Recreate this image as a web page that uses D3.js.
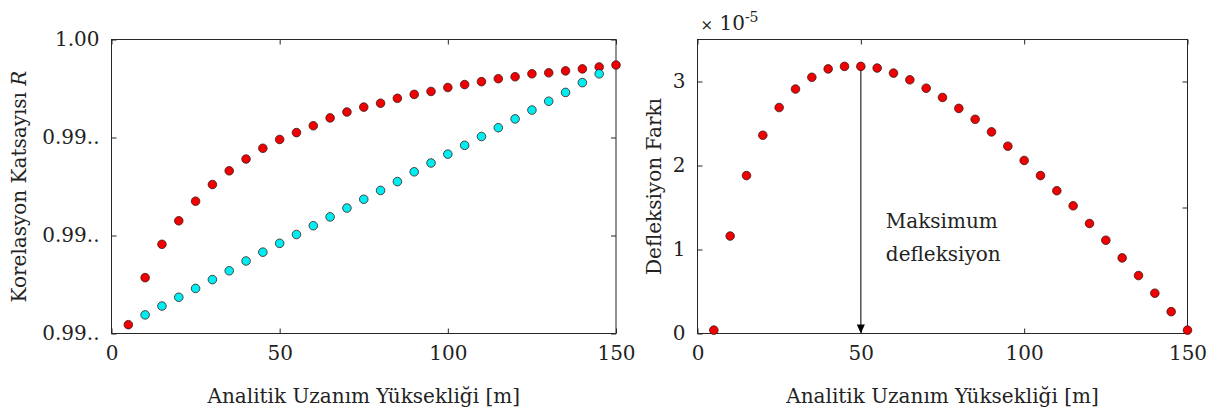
<!DOCTYPE html>
<html>
<head>
<meta charset="utf-8">
<script src="https://cdn.jsdelivr.net/npm/d3@7"></script>
<style>
  html, body { margin: 0; padding: 0; background: #fff; }
  svg { display: block; }
  text { font-family: "DejaVu Serif", serif; fill: #222; }
  .frame { fill: none; stroke: #262626; stroke-width: 1; }
  .tick line { stroke: #262626; }
</style>
</head>
<body>
<svg id="chart" width="1231" height="414"></svg>
<script>
// x positions of the samples [m]
var heights = [5, 10, 15, 20, 25, 30, 35, 40, 45, 50, 55, 60, 65, 70, 75,
  80, 85, 90, 95, 100, 105, 110, 115, 120, 125, 130, 135, 140, 145, 150];

// left panel: correlation coefficient R (red series, 5..150)
var corrRed = [0.99709, 0.99757, 0.99791, 0.99815, 0.99835, 0.99852, 0.99866, 0.99878,
  0.99889, 0.99898, 0.99905, 0.99912, 0.99920, 0.99926, 0.99931, 0.99935, 0.99940,
  0.99944, 0.99947, 0.99951, 0.99954, 0.99957, 0.99960, 0.99962, 0.99965, 0.99966,
  0.99968, 0.99970, 0.99972, 0.99974];
// cyan series, 10..145
var corrCyanHeights = heights.slice(1, 29);
var corrCyan = [0.99719, 0.99728, 0.99737, 0.99746, 0.99755, 0.99764, 0.99774, 0.99783,
  0.99792, 0.99801, 0.99810, 0.99819, 0.99828, 0.99837, 0.99846, 0.99855, 0.99865,
  0.99874, 0.99883, 0.99892, 0.99901, 0.99910, 0.99919, 0.99928, 0.99937, 0.99946,
  0.99956, 0.99965];

// right panel: deflection difference (x 1e-5)
var deflection = [0.04, 1.16, 1.88, 2.36, 2.69, 2.91, 3.05, 3.15, 3.18, 3.18, 3.16,
  3.10, 3.02, 2.92, 2.81, 2.68, 2.55, 2.40, 2.23, 2.06, 1.88, 1.70, 1.52, 1.31,
  1.11, 0.90, 0.69, 0.48, 0.26, 0.04];

var xTicks = [0, 50, 100, 150];
var corrTicks = [0.997, 0.998, 0.999, 1.000];
var corrTickLabels = ["0.99..", "0.99..", "0.99..", "1.00"];
var deflTicks = [0, 1, 2, 3];
var deflRightTicks = [1.5, 3];
var peakHeight = 50;

var svg = d3.select("#chart");
var tickLen = 5;

function panel(box, yDomain) {
  var g = svg.append("g");
  var x = d3.scaleLinear().domain([0, 150]).range([box.x0, box.x1]);
  var y = d3.scaleLinear().domain(yDomain).range([box.y1, box.y0]);
  g.append("rect").attr("class", "frame")
    .attr("x", box.x0).attr("y", box.y0)
    .attr("width", box.x1 - box.x0).attr("height", box.y1 - box.y0);
  return { g: g, x: x, y: y, box: box };
}

function styleLabels(a) {
  a.select(".domain").remove();
  a.selectAll("text").style("font-size", "20px").attr("fill", "#222");
}

function xAxis(p) {
  var b = p.box;
  p.g.append("g").attr("transform", "translate(0," + b.y1 + ")")
    .call(d3.axisBottom(p.x).tickValues(xTicks).tickSize(-tickLen).tickPadding(12))
    .call(styleLabels);
  p.g.append("g").attr("transform", "translate(0," + b.y0 + ")")
    .call(d3.axisTop(p.x).tickValues(xTicks).tickSize(-tickLen).tickFormat(""))
    .call(function (a) { a.select(".domain").remove(); });
  p.g.append("text").attr("x", (b.x0 + b.x1) / 2).attr("y", 403)
    .attr("text-anchor", "middle").style("font-size", "20px")
    .text("Analitik Uzanım Yüksekliği [m]");
}

function dots(p, xs, ys, color) {
  p.g.append("g").selectAll("circle").data(ys).join("circle")
    .attr("cx", function (d, i) { return p.x(xs[i]); })
    .attr("cy", function (d) { return p.y(d); })
    .attr("r", 4.3)
    .attr("fill", color).attr("stroke", "#3a1a1a").attr("stroke-width", 0.8);
}

// ---- left panel
var L = panel({ x0: 111.5, x1: 616, y0: 39.5, y1: 333.5 }, [0.997, 1.000]);
L.g.append("g").attr("transform", "translate(" + L.box.x0 + ",0)")
  .call(d3.axisLeft(L.y).tickValues(corrTicks).tickSize(-tickLen).tickPadding(12)
    .tickFormat(function (d, i) { return corrTickLabels[i]; }))
  .call(styleLabels);
L.g.append("g").attr("transform", "translate(" + L.box.x1 + ",0)")
  .call(d3.axisRight(L.y).tickValues(corrTicks).tickSize(-tickLen).tickFormat(""))
  .call(function (a) { a.select(".domain").remove(); });
xAxis(L);
var ly = L.g.append("text").attr("transform", "translate(26," + ((L.box.y0 + L.box.y1) / 2) + ") rotate(-90)")
  .attr("text-anchor", "middle").style("font-size", "20px");
ly.append("tspan").text("Korelasyon Katsayısı ");
ly.append("tspan").style("font-style", "italic").text("R");
dots(L, heights, corrRed, "#f00000");
dots(L, corrCyanHeights, corrCyan, "#00eef2");

// ---- right panel
var R = panel({ x0: 697.5, x1: 1187.5, y0: 39.5, y1: 333.5 }, [0, 3.5]);
R.g.append("g").attr("transform", "translate(" + R.box.x0 + ",0)")
  .call(d3.axisLeft(R.y).tickValues(deflTicks).tickSize(-tickLen).tickPadding(12)
    .tickFormat(d3.format("d")))
  .call(styleLabels);
R.g.append("g").attr("transform", "translate(" + R.box.x1 + ",0)")
  .call(d3.axisRight(R.y).tickValues(deflRightTicks).tickSize(-tickLen).tickFormat(""))
  .call(function (a) { a.select(".domain").remove(); });
xAxis(R);
R.g.append("text").attr("transform", "translate(661," + ((R.box.y0 + R.box.y1) / 2) + ") rotate(-90)")
  .attr("text-anchor", "middle").style("font-size", "20px").text("Defleksiyon Farkı");

var exp = R.g.append("text").attr("x", R.box.x0 + 3).attr("y", 30);
exp.append("tspan").style("font-size", "15px").text("×");
exp.append("tspan").style("font-size", "20px").text(" 10");
exp.append("tspan").style("font-size", "14px").attr("dy", -8).text("-5");

// arrow to the maximum deflection
var peakIdx = heights.indexOf(peakHeight);
var ax = R.x(peakHeight);
var ayTop = R.y(deflection[peakIdx]);
var ayBot = R.y(0);
R.g.append("line").attr("x1", ax).attr("x2", ax).attr("y1", ayTop).attr("y2", ayBot - 8)
  .attr("stroke", "#262626").attr("stroke-width", 1.2);
R.g.append("path")
  .attr("d", "M" + (ax - 4) + "," + (ayBot - 9) + "L" + (ax + 4) + "," + (ayBot - 9) + "L" + ax + "," + ayBot + "Z")
  .attr("fill", "#000");
var ann = R.g.append("text").attr("x", ax + 25).attr("y", 228).style("font-size", "20px");
ann.append("tspan").text("Maksimum");
ann.append("tspan").attr("x", ax + 25).attr("dy", 33).text("defleksiyon");

dots(R, heights, deflection, "#f00000");
</script>
</body>
</html>
